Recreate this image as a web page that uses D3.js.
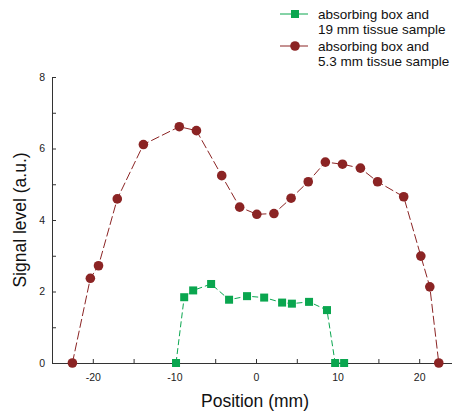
<!DOCTYPE html>
<html>
<head>
<meta charset="utf-8">
<script src="https://cdn.jsdelivr.net/npm/d3@7"></script>
<style>
  html, body { margin: 0; padding: 0; background: #fff; }
  svg { display: block; font-family: "Liberation Sans", Arial, sans-serif; }
</style>
</head>
<body>
<svg id="chart" width="452" height="414"></svg>
<script>
// Signal profiles across position for the two samples
const thickPos = [-9.8, -8.8, -7.7, -5.5, -3.3, -1.1, 1.0, 3.2, 4.4, 6.5, 8.7, 9.7, 10.8];
const thickSignal = [0, 1.84, 2.03, 2.21, 1.77, 1.87, 1.83, 1.69, 1.66, 1.71, 1.48, 0, 0];

const thinPos = [-22.5, -20.3, -19.3, -17.0, -13.8, -9.4, -7.3, -4.2, -2.0, 0.1, 2.2, 4.3, 6.4, 8.5, 10.6, 12.8, 14.9, 18.1, 20.2, 21.3, 22.4];
const thinSignal = [0, 2.37, 2.72, 4.59, 6.11, 6.61, 6.50, 5.24, 4.36, 4.16, 4.18, 4.61, 5.07, 5.62, 5.56, 5.45, 5.07, 4.65, 2.99, 2.13, 0];

const xTicks = [-20, -15, -10, -5, 0, 5, 10, 15, 20];
const xLabels = [-20, -10, 0, 10, 20];
const yTicks = [0, 1, 2, 3, 4, 5, 6, 7, 8];
const yLabels = [0, 2, 4, 6, 8];

const legendLabels = [
  ["absorbing box and", "19 mm tissue sample"],
  ["absorbing box and", "5.3 mm tissue sample"]
];

const green = "#0aa64f";
const red = "#8b2424";

const svg = d3.select("#chart");
const x = d3.scaleLinear().domain([-25, 25]).range([52, 460]);
const y = d3.scaleLinear().domain([0, 8]).range([363, 77]);

const axisColor = "#333";

// Bottom axis
const xAxis = svg.append("g").attr("transform", `translate(0,${y(0)})`)
  .call(d3.axisBottom(x).tickValues(xTicks).tickSizeInner(-4).tickSizeOuter(0)
    .tickFormat(d => xLabels.includes(d) ? d : ""));
xAxis.select(".domain").attr("stroke", axisColor);
xAxis.selectAll(".tick line").attr("stroke", axisColor);
xAxis.selectAll(".tick text").attr("y", 11).attr("font-size", 10.5).attr("fill", "#222")
  .attr("font-family", "Liberation Sans, Arial, sans-serif");

// Left axis
const yAxis = svg.append("g").attr("transform", `translate(${x(-25)},0)`)
  .call(d3.axisLeft(y).tickValues(yTicks).tickSizeInner(-4).tickSizeOuter(0)
    .tickFormat(d => yLabels.includes(d) ? d : ""));
yAxis.select(".domain").attr("stroke", axisColor);
yAxis.selectAll(".tick line").attr("stroke", axisColor);
yAxis.selectAll(".tick text").attr("x", -7).attr("font-size", 10.5).attr("fill", "#222")
  .attr("font-family", "Liberation Sans, Arial, sans-serif");

// Axis titles
svg.append("text").attr("x", 255).attr("y", 407).attr("text-anchor", "middle")
  .attr("font-size", 17.5).attr("fill", "#111").text("Position (mm)");
svg.append("text").attr("transform", "translate(26,220) rotate(-90)")
  .attr("text-anchor", "middle").attr("font-size", 17.5).attr("fill", "#111")
  .text("Signal level (a.u.)");

const line = d3.line().x(d => x(d[0])).y(d => y(d[1]));

// Thin sample profile (circles)
const thinData = thinPos.map((p, i) => [p, thinSignal[i]]);
svg.append("path").datum(thinData).attr("d", line).attr("fill", "none")
  .attr("stroke", red).attr("stroke-width", 1).attr("stroke-dasharray", "9,3");
svg.append("g").selectAll("circle").data(thinData).join("circle")
  .attr("cx", d => x(d[0])).attr("cy", d => y(d[1])).attr("r", 4.8).attr("fill", red);

// Thick sample profile (squares)
const thickData = thickPos.map((p, i) => [p, thickSignal[i]]);
svg.append("path").datum(thickData).attr("d", line).attr("fill", "none")
  .attr("stroke", green).attr("stroke-width", 1).attr("stroke-dasharray", "6,3");
svg.append("g").selectAll("rect").data(thickData).join("rect")
  .attr("x", d => x(d[0]) - 4).attr("y", d => y(d[1]) - 4)
  .attr("width", 8).attr("height", 8).attr("fill", green);

// Legend
const legend = svg.append("g");
const legendRows = [
  { color: green, shape: "square", y: 14 },
  { color: red, shape: "circle", y: 46 }
];
legendRows.forEach((row, i) => {
  const g = legend.append("g");
  g.append("line").attr("x1", 280).attr("x2", 308).attr("y1", row.y).attr("y2", row.y)
    .attr("stroke", row.color).attr("stroke-width", 1);
  if (row.shape === "square") {
    g.append("rect").attr("x", 291).attr("y", row.y - 4).attr("width", 8).attr("height", 8).attr("fill", row.color);
  } else {
    g.append("circle").attr("cx", 295).attr("cy", row.y).attr("r", 4.8).attr("fill", row.color);
  }
  legendLabels[i].forEach((t, j) => {
    g.append("text").attr("x", 318).attr("y", row.y + 5 + j * 14.5)
      .attr("font-size", 13.5).attr("fill", "#111").text(t);
  });
});
</script>
</body>
</html>
